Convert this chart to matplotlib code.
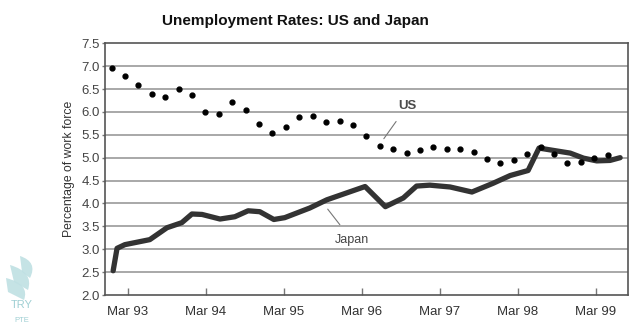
import numpy as np
import matplotlib
matplotlib.use("Agg")
import matplotlib.pyplot as plt
from matplotlib.path import Path
from matplotlib.patches import PathPatch

plt.rcParams['font.family'] = ['Liberation Sans', 'DejaVu Sans']

# US: dots roughly every two months, Jan 93 .. May 99
us_start, us_end = 1992.96, 1999.32
us_rate = [6.95, 6.79, 6.58, 6.39, 6.32, 6.50, 6.36, 6.00, 5.96, 6.21,
           6.04, 5.74, 5.55, 5.66, 5.89, 5.92, 5.78, 5.81, 5.72, 5.48,
           5.26, 5.19, 5.10, 5.16, 5.23, 5.19, 5.20, 5.12, 4.98, 4.89,
           4.96, 5.09, 5.23, 5.08, 4.88, 4.91, 5.00, 5.06]

# Japan: line vertices (time in years, rate)
jp_time = [1992.98, 1993.03, 1993.13, 1993.45, 1993.67, 1993.86, 1993.99,
           1994.12, 1994.35, 1994.54, 1994.71, 1994.86, 1995.04, 1995.18,
           1995.50, 1995.72, 1996.21, 1996.47, 1996.70, 1996.87, 1997.04,
           1997.30, 1997.58, 1997.85, 1998.07, 1998.30, 1998.44, 1998.62,
           1998.84, 1999.01, 1999.18, 1999.35, 1999.48]
jp_rate = [2.53, 3.02, 3.10, 3.21, 3.47, 3.58, 3.77, 3.76, 3.66, 3.71,
           3.84, 3.82, 3.65, 3.69, 3.90, 4.08, 4.37, 3.93, 4.12, 4.38,
           4.40, 4.36, 4.25, 4.44, 4.61, 4.72, 5.21, 5.16, 5.10, 4.99,
           4.93, 4.94, 5.00]

tick_years = [1993.167, 1994.167, 1995.167, 1996.167, 1997.167, 1998.167, 1999.167]
tick_labels = ["Mar 93", "Mar 94", "Mar 95", "Mar 96", "Mar 97", "Mar 98", "Mar 99"]
y_ticks = [2.0, 2.5, 3.0, 3.5, 4.0, 4.5, 5.0, 5.5, 6.0, 6.5, 7.0, 7.5]

us_time = np.linspace(us_start, us_end, len(us_rate))

fig = plt.figure(figsize=(6.35, 3.3), dpi=100)
ax = fig.add_axes([0.1654, 0.106, 0.8236, 0.763])

for y in y_ticks[1:-1]:
    ax.axhline(y, color='#9a9a9a', lw=1.2, zorder=0)

ax.plot(jp_time, jp_rate, color='#333333', lw=3.8, solid_joinstyle='round',
        solid_capstyle='round', zorder=2)
ax.plot(us_time, us_rate, 'o', color='black', markersize=3.5, zorder=3)

# labels with leader lines
ax.annotate("US", xy=(1996.44, 5.39), xytext=(1996.75, 6.13),
            ha='center', va='center', fontsize=9.5, fontweight='bold', color='#4a4a4a',
            arrowprops=dict(arrowstyle='-', color='#777777', lw=0.8,
                            shrinkA=6, shrinkB=1))
ax.annotate("Japan", xy=(1995.72, 3.90), xytext=(1996.04, 3.20),
            ha='center', va='center', fontsize=9, color='#444444',
            arrowprops=dict(arrowstyle='-', color='#777777', lw=0.8,
                            shrinkA=6, shrinkB=1))

ax.set_xlim(1992.876, 1999.581)
ax.set_ylim(2.0, 7.5)
ax.set_xticks(tick_years)
ax.set_xticklabels(tick_labels, fontsize=9.5, color='#333333')
ax.set_yticks(y_ticks)
ax.set_yticklabels([f"{v:.1f}" for v in y_ticks], fontsize=9.5, color='#444444')
ax.tick_params(axis='x', direction='in', length=5, width=1, color='#777777', pad=8)
ax.tick_params(axis='y', direction='out', length=2.5, width=1, color='#777777', pad=1)

for s in ax.spines.values():
    s.set_color('#555555')
    s.set_linewidth(1.2)

ax.set_ylabel("Percentage of work force", fontsize=8.8, color='#333333', labelpad=5)
fig.text(0.466, 0.937, "Unemployment Rates: US and Japan", ha='center', va='center',
         fontsize=11, fontweight='bold', color='#111111')

# watermark logo in the corner (three swooshes + text), in figure pixels
W, H = 635.0, 330.0
swooshes = [
    [(20, 256), (38, 262), (30, 278), (22, 272)],
    [(10, 265), (34, 272), (28, 290), (14, 282)],
    [(6, 278), (30, 284), (24, 300), (8, 292)],
]
for pts in swooshes:
    verts = [(x / W, 1 - y / H) for x, y in pts]
    path = Path([verts[0], verts[1], verts[2], verts[3], verts[0]],
                [Path.MOVETO, Path.CURVE3, Path.CURVE3, Path.LINETO, Path.CLOSEPOLY])
    fig.add_artist(PathPatch(path, transform=fig.transFigure, facecolor='#bfe0e3',
                             edgecolor='none', alpha=0.9))
fig.text(21.5 / W, 1 - 305 / H, "TRY", ha='center', va='center', fontsize=8, color='#9fcfd3')
fig.text(21.5 / W, 1 - 320 / H, "PTE", ha='center', va='center', fontsize=5.5, color='#9fcfd3')

fig.savefig("out.png", dpi=100)
